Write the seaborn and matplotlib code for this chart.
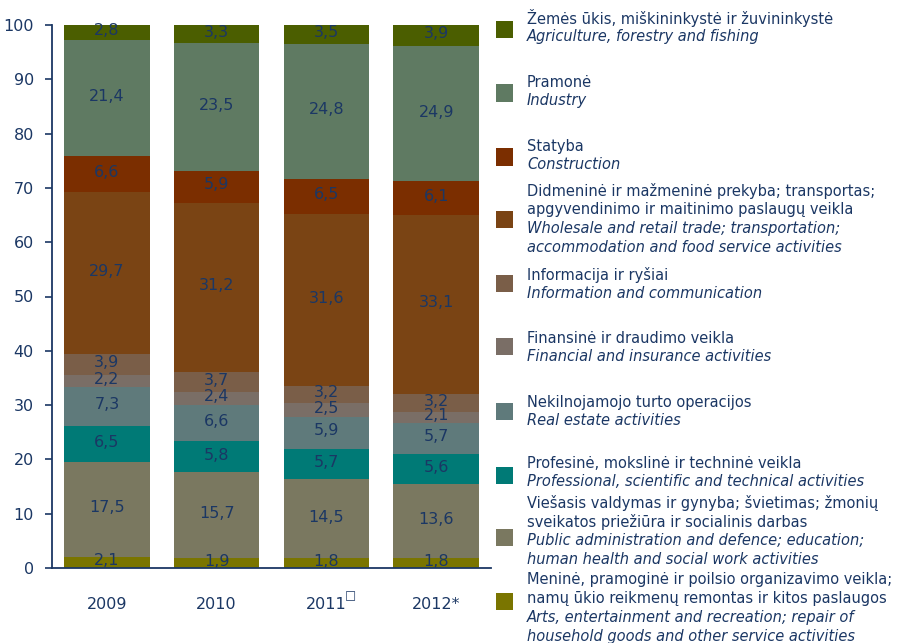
import numpy as np
import pandas as pd
import matplotlib
matplotlib.use("Agg")
import matplotlib.pyplot as plt
import seaborn as sns
from matplotlib.patches import Rectangle

years = ["2009", "2010", "2011", "2012"]
year_labels = ["2009", "2010", "2011", "2012*"]

# sector shares, listed bottom of the stack to top
arts = [2.1, 1.9, 1.8, 1.8]
public_admin = [17.5, 15.7, 14.5, 13.6]
professional = [6.5, 5.8, 5.7, 5.6]
real_estate = [7.3, 6.6, 5.9, 5.7]
financial = [2.2, 2.4, 2.5, 2.1]
information = [3.9, 3.7, 3.2, 3.2]
trade = [29.7, 31.2, 31.6, 33.1]
construction = [6.6, 5.9, 6.5, 6.1]
industry = [21.4, 23.5, 24.8, 24.9]
agriculture = [2.8, 3.3, 3.5, 3.9]

stack = [arts, public_admin, professional, real_estate, financial,
         information, trade, construction, industry, agriculture]
colors = ["#7A7500", "#7A7860", "#007A76", "#5F7A7B", "#7A6E66",
          "#7A5E48", "#7A4414", "#7B2E00", "#5F7A62", "#4B5E00"]

# legend texts, top to bottom (same order as stack reversed)
legend_lt = [
    ["Žemės ūkis, miškininkystė ir žuvininkystė"],
    ["Pramonė"],
    ["Statyba"],
    ["Didmeninė ir mažmeninė prekyba; transportas;",
     "apgyvendinimo ir maitinimo paslaugų veikla"],
    ["Informacija ir ryšiai"],
    ["Finansinė ir draudimo veikla"],
    ["Nekilnojamojo turto operacijos"],
    ["Profesinė, mokslinė ir techninė veikla"],
    ["Viešasis valdymas ir gynyba; švietimas; žmonių",
     "sveikatos priežiūra ir socialinis darbas"],
    ["Meninė, pramoginė ir poilsio organizavimo veikla;",
     "namų ūkio reikmenų remontas ir kitos paslaugos"],
]
legend_en = [
    ["Agriculture, forestry and fishing"],
    ["Industry"],
    ["Construction"],
    ["Wholesale and retail trade; transportation;",
     "accommodation and food service activities"],
    ["Information and communication"],
    ["Financial and insurance activities"],
    ["Real estate activities"],
    ["Professional, scientific and technical activities"],
    ["Public administration and defence; education;",
     "human health and social work activities"],
    ["Arts, entertainment and recreation; repair of",
     "household goods and other service activities"],
]

navy = "#1B3764"
sns.set_style("white")
plt.rcParams["font.family"] = ["DejaVu Sans"]

fig = plt.figure(figsize=(9.01, 6.43), dpi=100)
ax = fig.add_axes([52 / 901, 1 - 568 / 643, (491 - 52) / 901, (568 - 25) / 643])

vals = np.array(stack)
cum = np.cumsum(vals, axis=0)

# draw cumulative totals from the top layer down so lower layers cover them
for k in range(len(stack) - 1, -1, -1):
    df = pd.DataFrame({"year": years, "total": cum[k]})
    sns.barplot(data=df, x="year", y="total", order=years, color=colors[k],
                saturation=1, width=0.78, linewidth=0, ax=ax)

for k in range(len(stack)):
    for i in range(len(years)):
        v = vals[k, i]
        mid = cum[k, i] - v / 2
        ax.text(i, mid + 0.3, f"{v:.1f}".replace(".", ","), ha="center", va="center",
                fontsize=11.5, color=navy)

ax.set_xlim(-0.5, 3.5)
ax.set_ylim(0, 100)
ax.set_yticks(range(0, 101, 10))
ax.set_xticks([-0.5, 0.5, 1.5, 2.5, 3.5])
ax.set_xticklabels([])
ax.set_xticks(range(4), minor=True)
ax.set_xticklabels(year_labels, minor=True)
ax.tick_params(axis="x", which="major", direction="out", length=6, width=1.2, color=navy)
ax.tick_params(axis="x", which="minor", length=0, pad=21, labelsize=11.5, labelcolor=navy)
ax.tick_params(axis="y", direction="out", length=5, width=1.2, color=navy,
               pad=8, labelsize=11.5, labelcolor=navy, left=True)
ax.set_xlabel("")
ax.set_ylabel("")
for s in ["top", "right"]:
    ax.spines[s].set_visible(False)
for s in ["left", "bottom"]:
    ax.spines[s].set_color(navy)
    ax.spines[s].set_linewidth(1.3)

# small marker after 2011
fig.text(350 / 901, 1 - 596 / 643, "□", fontsize=8.5, fontweight="bold",
         color=navy, ha="center", va="center")

# legend drawn by hand, top to bottom
box_centers = [29.5, 93, 157, 219.5, 283, 347, 411, 475, 537, 601]
text_centers = [27, 91.5, 155.5, 219, 284, 347.5, 411.5, 472.5, 531, 608]
line_h = 18.7
for j in range(len(box_centers)):
    color = colors[len(colors) - 1 - j]
    yb = box_centers[j]
    fig.add_artist(Rectangle((496 / 901, 1 - (yb + 8.5) / 643), 17 / 901, 17 / 643,
                             transform=fig.transFigure, color=color, lw=0))
    lines = [(t, "normal") for t in legend_lt[j]] + [(t, "italic") for t in legend_en[j]]
    n = len(lines)
    for m, (t, st) in enumerate(lines):
        yy = text_centers[j] + (m - (n - 1) / 2) * line_h
        fig.text(527 / 901, 1 - yy / 643, t, fontsize=10.5, style=st,
                 color=navy, ha="left", va="center")

fig.savefig("out.png", dpi=100)
